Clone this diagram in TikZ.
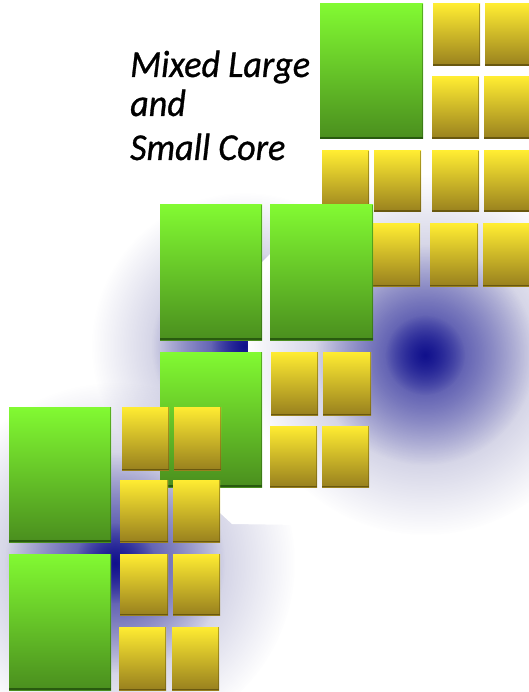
\documentclass[tikz,border=0pt]{standalone}
\usepackage{graphicx}
\usepackage{fontspec}
\setmainfont{Carlito}[ItalicFeatures={FakeBold=0.8}]
\usetikzlibrary{fadings}
\definecolor{gtop}{RGB}{130,250,50}
\definecolor{gmid}{RGB}{102,200,40}
\definecolor{gbot}{RGB}{74,142,30}
\definecolor{gedge}{RGB}{40,90,15}
\definecolor{ytop}{RGB}{255,236,50}
\definecolor{ymid}{RGB}{214,190,40}
\definecolor{ybot}{RGB}{152,128,30}
\definecolor{yedge}{RGB}{105,88,15}
\definecolor{glowgray}{RGB}{150,150,195}
\definecolor{glowmid}{RGB}{60,60,165}
\definecolor{glowdeep}{RGB}{16,16,140}
\tikzfading[name=glowfade, inner color=transparent!0, outer color=transparent!100]
\newcommand\greencore[4]{%
  \shade[top color=gtop, middle color=gmid, bottom color=gbot] (#1,#2) rectangle (#3,#4);
  \fill[gedge] (#1,#4-2) rectangle (#3,#4);
  \fill[gedge, opacity=.45] (#3-1.5,#2) rectangle (#3,#4-2);
}
\newcommand\yellowcore[4]{%
  \shade[top color=ytop, middle color=ymid, bottom color=ybot] (#1,#2) rectangle (#3,#4);
  \fill[yedge] (#1,#4-1.5) rectangle (#3,#4);
  \fill[yedge, opacity=.5] (#3-1.5,#2) rectangle (#3,#4-1.5);
}
\newcommand\glowat[3]{%
  \fill[glowgray, path fading=glowfade] (#1,#2) circle (#3*180pt);
  \fill[glowmid, path fading=glowfade] (#1,#2) circle (#3*110pt);
  \fill[glowdeep, path fading=glowfade] (#1,#2) circle (#3*40pt);
}
\tikzset{titletext/.style={anchor=base west, inner sep=0pt, font=\itshape\fontsize{38}{38}\selectfont}}
\begin{document}
\begin{tikzpicture}[x=1pt,y=-1pt]
\useasboundingbox (0,0) rectangle (529,692);
\clip (0,0) rectangle (529,692);
\fill[white] (0,0) rectangle (529,692);
% glows behind the groups
\glowat{245}{346}{0.85}
\glowat{115}{563}{1}
\fill[white] (248,352) -- (248,338) -- (262,338) -- (262,262) -- (276,248) -- (540,248)
  -- (540,540) -- (300,525) -- (232,524) -- (219,512) -- (219,487) -- (248,487) -- cycle;
\glowat{425}{355}{1}
% group 1 (top right)
\greencore{320}{4}{423}{139}
\yellowcore{433}{4}{480}{66}
\yellowcore{485}{4}{532}{66}
\yellowcore{432}{77}{479}{139}
\yellowcore{484}{77}{531}{139}
\yellowcore{322}{151}{369}{212}
\yellowcore{374}{151}{421}{212}
\yellowcore{432}{151}{479}{212}
\yellowcore{484}{151}{531}{212}
\yellowcore{321}{224}{368}{286}
\yellowcore{373}{224}{420}{286}
\yellowcore{430}{224}{478}{286}
\yellowcore{483}{224}{530}{286}
% group 2 (middle)
\greencore{160}{205}{262}{340}
\greencore{270}{205}{373}{340}
\greencore{160}{352}{262}{487}
\yellowcore{271}{352}{318}{415}
\yellowcore{323}{352}{371}{415}
\yellowcore{270}{426}{317}{487}
\yellowcore{322}{426}{369}{487}
% group 3 (bottom left)
\greencore{9}{407}{111}{542}
\greencore{9}{554}{111}{690}
\yellowcore{122}{407}{169}{470}
\yellowcore{174}{407}{221}{470}
\yellowcore{120}{480}{168}{542}
\yellowcore{173}{480}{220}{542}
\yellowcore{120}{554}{168}{615}
\yellowcore{173}{554}{220}{615}
\yellowcore{119}{627}{166}{690}
\yellowcore{172}{627}{219}{690}
% title
\node[titletext] (t1) at (130,77) {\scalebox{0.95}[1]{Mixed Large}};
\node[titletext] (t2) at (130,116) {\scalebox{0.95}[1]{and}};
\node[titletext] (t3) at (130,160) {\scalebox{0.95}[1]{Small Core}};
\end{tikzpicture}
\end{document}
